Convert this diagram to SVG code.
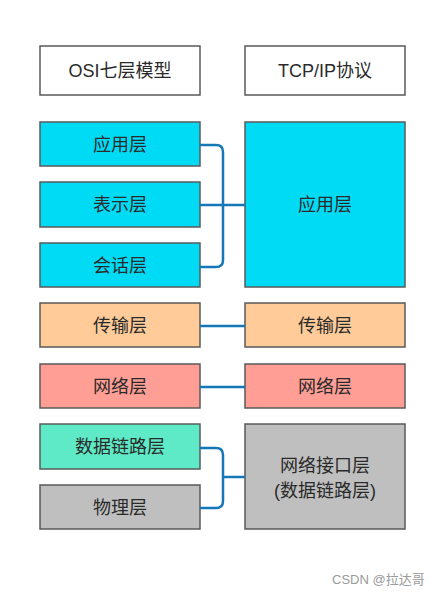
<svg xmlns="http://www.w3.org/2000/svg" width="446" height="596" viewBox="0 0 446 596">
<style>
.box{stroke:#5a5a5a;stroke-width:1.5}
.hdr{fill:#ffffff}
.cyan{fill:#00dbf5}
.orange{fill:#ffcc99}
.red{fill:#ff9e94}
.teal{fill:#5eeac6}
.gray{fill:#bfbfbf}
.t{font-family:"Liberation Sans","Noto Sans CJK SC",sans-serif;font-size:18px;fill:#2a2a2a;text-anchor:middle;dominant-baseline:central}
.c{fill:none;stroke:#1677b8;stroke-width:2.5;stroke-linejoin:round}
.wm{font-family:"Liberation Sans","Noto Sans CJK SC",sans-serif;font-size:13px;fill:#9a9a9a}
</style>
<rect width="446" height="596" fill="#ffffff"/>
<g id="osi-header"><rect class="box hdr" x="40" y="46" width="160" height="49"/><text class="t" x="120" y="71">OSI七层模型</text></g>
<g id="tcpip-header"><rect class="box hdr" x="245" y="46" width="160" height="49"/><text class="t" x="325" y="71">TCP/IP协议</text></g>
<g id="osi-application"><rect class="box cyan" x="40" y="122" width="160" height="44"/><text class="t" x="120" y="145">应用层</text></g>
<g id="osi-presentation"><rect class="box cyan" x="40" y="182" width="160" height="45"/><text class="t" x="120" y="205">表示层</text></g>
<g id="osi-session"><rect class="box cyan" x="40" y="243" width="160" height="44"/><text class="t" x="120" y="266">会话层</text></g>
<g id="tcp-application"><rect class="box cyan" x="245" y="122" width="160" height="165"/><text class="t" x="325" y="205">应用层</text></g>
<g id="osi-transport"><rect class="box orange" x="40" y="303" width="160" height="44"/><text class="t" x="120" y="326">传输层</text></g>
<g id="tcp-transport"><rect class="box orange" x="245" y="303" width="160" height="44"/><text class="t" x="325" y="326">传输层</text></g>
<g id="osi-network"><rect class="box red" x="40" y="364" width="160" height="44"/><text class="t" x="120" y="387">网络层</text></g>
<g id="tcp-network"><rect class="box red" x="245" y="364" width="160" height="44"/><text class="t" x="325" y="387">网络层</text></g>
<g id="osi-datalink"><rect class="box teal" x="40" y="424" width="160" height="45"/><text class="t" x="120" y="447">数据链路层</text></g>
<g id="osi-physical"><rect class="box gray" x="40" y="485" width="160" height="44"/><text class="t" x="120" y="508">物理层</text></g>
<g id="tcp-netinterface"><rect class="box gray" x="245" y="424" width="160" height="105"/><text class="t" x="325" y="466">网络接口层</text><text class="t" x="325" y="491">(数据链路层)</text></g>
<g id="connectors">
<path class="c" d="M200,145 H216 Q223,145 223,152 V260 Q223,267 216,267 H200"/>
<path class="c" d="M200,205 H245"/>
<path class="c" d="M200,326 H245"/>
<path class="c" d="M200,387 H245"/>
<path class="c" d="M200,448 H216 Q223,448 223,455 V501 Q223,508 216,508 H200"/>
<path class="c" d="M223,477 H245"/>
</g>
<text class="wm" x="332" y="584">CSDN @拉达哥</text>
</svg>
